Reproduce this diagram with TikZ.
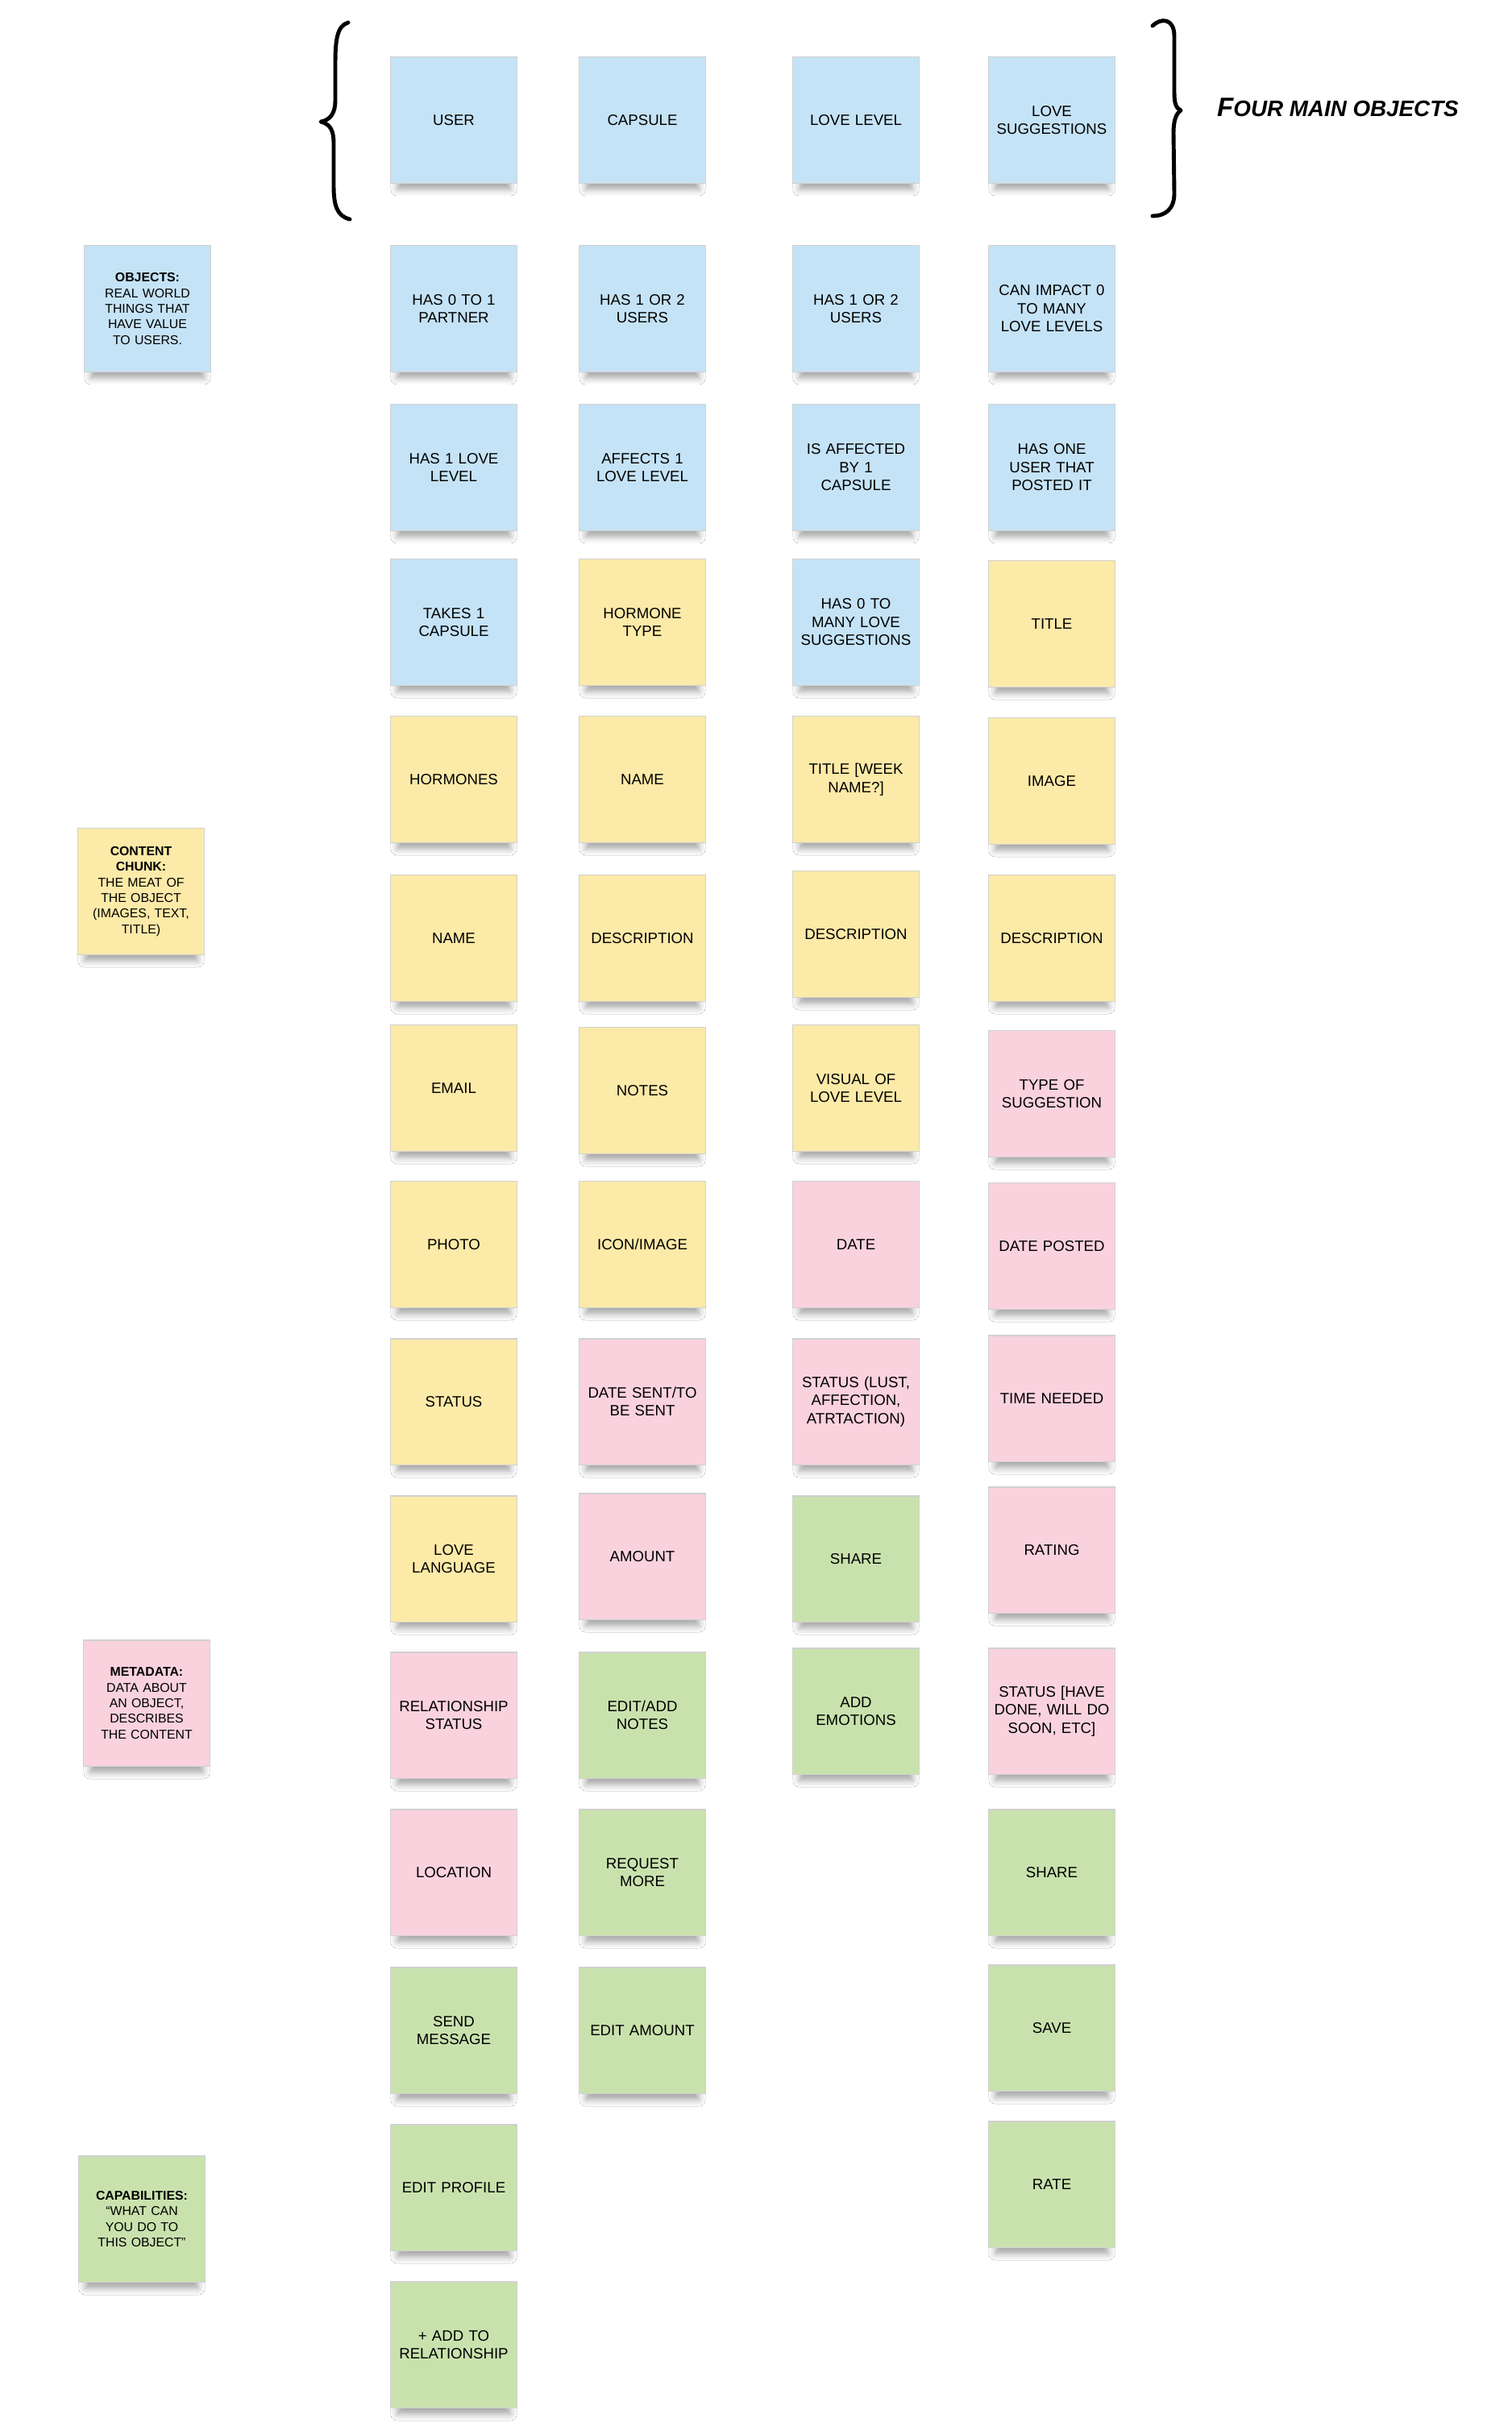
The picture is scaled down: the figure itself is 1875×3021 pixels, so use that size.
\documentclass[tikz,border=0pt]{standalone}
\usepackage{fontspec}
\setmainfont{Liberation Sans}
\usetikzlibrary{shadows.blur}
\definecolor{noteblue}{HTML}{C5E3F6}
\definecolor{noteyellow}{HTML}{FCEAA8}
\definecolor{notepink}{HTML}{F9D2DE}
\definecolor{notegreen}{HTML}{C9E2AD}
\tikzset{
  note/.style={minimum width=1.56cm, minimum height=1.56cm, inner sep=0.3pt,
    text width=1.5cm, align=center, draw=black!18, line width=0.3pt,
    font=\fontsize{5.3}{6.4}\selectfont,
    blur shadow={shadow xshift=0pt, shadow yshift=-5pt, shadow scale=0.9,
      shadow opacity=35, shadow blur radius=2.5pt}},
  objnote/.style={note, fill=noteblue},
  chunknote/.style={note, fill=noteyellow},
  metanote/.style={note, fill=notepink},
  capnote/.style={note, fill=notegreen},
  keynote/.style={font=\fontsize{4.5}{5.5}\selectfont},
  brace/.style={line width=1.4pt, line cap=round, line join=round}
}
\begin{document}
\begin{tikzpicture}[x=0.01cm, y=-0.01cm]
    \useasboundingbox[fill=white] (0,0) rectangle (1875,3021);
    % key column
    \node[objnote, keynote] (keyobj) at (183,383) {\textbf{OBJECTS:}\\REAL WORLD\\THINGS THAT\\HAVE VALUE\\TO USERS.};
    \node[chunknote, keynote] (keychunk) at (175,1106) {\textbf{CONTENT}\\\textbf{CHUNK:}\\THE MEAT OF\\THE OBJECT\\(IMAGES, TEXT,\\TITLE)};
    \node[metanote, keynote] (keymeta) at (182,2113) {\textbf{METADATA:}\\DATA ABOUT\\AN OBJECT,\\DESCRIBES\\THE CONTENT};
    \node[capnote, keynote] (keycap) at (176,2753) {\textbf{CAPABILITIES:}\\``WHAT CAN\\YOU DO TO\\THIS OBJECT''};
    % the four main objects
    \node[objnote] (user) at (563,149) {USER};
    \node[objnote] (capsule) at (797,149) {CAPSULE};
    \node[objnote] (lovelevel) at (1062,149) {LOVE LEVEL};
    \node[objnote] (lovesugg) at (1305,149) {LOVE\\SUGGESTIONS};
    \draw[brace] (432,28) .. controls (418,32) and (416,50) .. (416,80) -- (416,125)
        .. controls (416,140) and (410,149) .. (398,151)
        .. controls (410,154) and (414,162) .. (414,178) -- (414,230)
        .. controls (414,255) and (418,268) .. (434,272);
    \draw[brace] (1430,32) .. controls (1440,22) and (1457,22) .. (1457,45) -- (1457,115)
        .. controls (1457,128) and (1459,134) .. (1465,137)
        .. controls (1459,141) and (1456,150) .. (1456,165) -- (1457,240)
        .. controls (1457,260) and (1445,268) .. (1430,268);
    \node[font=\bfseries\itshape] (fourmain) at (1660,133)
        {\fontsize{9.4}{9}\selectfont F\fontsize{7.9}{9}\selectfont OUR MAIN OBJECTS};
    % user
    \node[objnote] (usera) at (563,383) {HAS 0 TO 1\\PARTNER};
    \node[objnote] (userb) at (563,580) {HAS 1 LOVE\\LEVEL};
    \node[objnote] (userc) at (563,772) {TAKES 1\\CAPSULE};
    \node[chunknote] (userd) at (563,967) {HORMONES};
    \node[chunknote] (usere) at (563,1164) {NAME};
    \node[chunknote] (userf) at (563,1350) {EMAIL};
    \node[chunknote] (userg) at (563,1544) {PHOTO};
    \node[chunknote] (userh) at (563,1739) {STATUS};
    \node[chunknote] (useri) at (563,1934) {LOVE\\LANGUAGE};
    \node[metanote] (userj) at (563,2128) {RELATIONSHIP\\STATUS};
    \node[metanote] (userk) at (563,2323) {LOCATION};
    \node[capnote] (userl) at (563,2519) {SEND\\MESSAGE};
    \node[capnote] (userm) at (563,2714) {EDIT PROFILE};
    \node[capnote] (usern) at (563,2909) {+ ADD TO\\RELATIONSHIP};
    % capsule
    \node[objnote] (capa) at (797,383) {HAS 1 OR 2\\USERS};
    \node[objnote] (capb) at (797,580) {AFFECTS 1\\LOVE LEVEL};
    \node[chunknote] (capc) at (797,772) {HORMONE\\TYPE};
    \node[chunknote] (capd) at (797,967) {NAME};
    \node[chunknote] (cape) at (797,1164) {DESCRIPTION};
    \node[chunknote] (capf) at (797,1353) {NOTES};
    \node[chunknote] (capg) at (797,1544) {ICON/IMAGE};
    \node[metanote] (caph) at (797,1739) {DATE SENT/TO\\BE SENT};
    \node[metanote] (capi) at (797,1931) {AMOUNT};
    \node[capnote] (capj) at (797,2128) {EDIT/ADD\\NOTES};
    \node[capnote] (capk) at (797,2323) {REQUEST\\MORE};
    \node[capnote] (capl) at (797,2519) {EDIT AMOUNT};
    % love level
    \node[objnote] (lvla) at (1062,383) {HAS 1 OR 2\\USERS};
    \node[objnote] (lvlb) at (1062,580) {IS AFFECTED\\BY 1\\CAPSULE};
    \node[objnote] (lvlc) at (1062,772) {HAS 0 TO\\MANY LOVE\\SUGGESTIONS};
    \node[chunknote] (lvld) at (1062,967) {TITLE [WEEK\\NAME?]};
    \node[chunknote] (lvle) at (1062,1159) {DESCRIPTION};
    \node[chunknote] (lvlf) at (1062,1350) {VISUAL OF\\LOVE LEVEL};
    \node[metanote] (lvlg) at (1062,1544) {DATE};
    \node[metanote] (lvlh) at (1062,1739) {STATUS (LUST,\\AFFECTION,\\ATRTACTION)};
    \node[capnote] (lvli) at (1062,1934) {SHARE};
    \node[capnote] (lvlj) at (1062,2123) {ADD\\EMOTIONS};
    % love suggestions
    \node[objnote] (sugga) at (1305,383) {CAN IMPACT 0\\TO MANY\\LOVE LEVELS};
    \node[objnote] (suggb) at (1305,580) {HAS ONE\\USER THAT\\POSTED IT};
    \node[chunknote] (suggc) at (1305,774) {TITLE};
    \node[chunknote] (suggd) at (1305,969) {IMAGE};
    \node[chunknote] (sugge) at (1305,1164) {DESCRIPTION};
    \node[metanote] (suggf) at (1305,1357) {TYPE OF\\SUGGESTION};
    \node[metanote] (suggg) at (1305,1546) {DATE POSTED};
    \node[metanote] (suggh) at (1305,1735) {TIME NEEDED};
    \node[metanote] (suggi) at (1305,1923) {RATING};
    \node[metanote] (suggj) at (1305,2123) {STATUS [HAVE\\DONE, WILL DO\\SOON, ETC]};
    \node[capnote] (suggk) at (1305,2323) {SHARE};
    \node[capnote] (suggl) at (1305,2516) {SAVE};
    \node[capnote] (suggm) at (1305,2710) {RATE};
\end{tikzpicture}
\end{document}
